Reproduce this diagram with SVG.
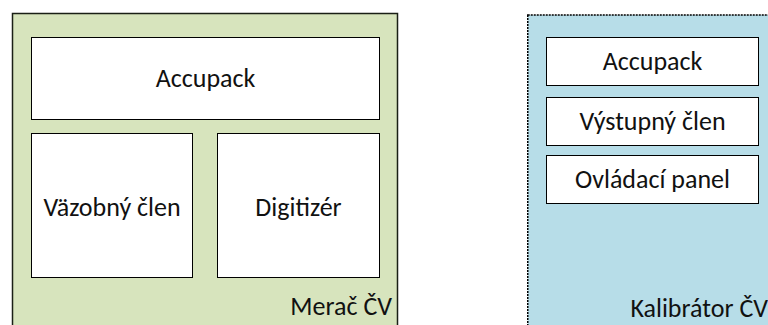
<svg xmlns="http://www.w3.org/2000/svg" width="768" height="325" viewBox="0 0 768 325">
<style>
text{font-family:Carlito,Lato,"Noto Sans",sans-serif;font-size:26px;fill:#111}
.box{fill:#fff;stroke:#000;stroke-width:1}
.c{text-anchor:middle}
.r{text-anchor:end}
</style>
<rect width="768" height="325" fill="#fff"/>
<g id="merac">
<rect x="12.5" y="13.5" width="385" height="320" fill="#d7e4bd" stroke="#1a1f16" stroke-width="1.5"/>
<text class="r" x="392" y="315">Merač ČV</text>
</g>
<g id="accupack1">
<rect class="box" x="31.5" y="37.5" width="348" height="82"/>
<text class="c" x="205.5" y="87">Accupack</text>
</g>
<g id="vazobny">
<rect class="box" x="31.5" y="133.5" width="161" height="144"/>
<text class="c" x="112" y="216">Väzobný člen</text>
</g>
<g id="digitizer">
<rect class="box" x="217.5" y="133.5" width="162" height="144"/>
<text class="c" x="298.5" y="216">Digitizér</text>
</g>
<g id="kalibrator">
<rect x="527.75" y="15" width="260" height="320" fill="#b7dde8" stroke="#000" stroke-width="1.5" stroke-dasharray="2,1"/>
<text class="r" x="768" y="317">Kalibrátor ČV</text>
</g>
<g id="accupack2">
<rect class="box" x="546.5" y="37.5" width="212" height="48"/>
<text class="c" x="652.5" y="70">Accupack</text>
</g>
<g id="vystupny">
<rect class="box" x="546.5" y="97.5" width="212" height="48"/>
<text class="c" x="652.5" y="130">Výstupný člen</text>
</g>
<g id="ovladaci">
<rect class="box" x="546.5" y="155.5" width="212" height="48"/>
<text class="c" x="652.5" y="188">Ovládací panel</text>
</g>
<g id="connectors"/>
</svg>
